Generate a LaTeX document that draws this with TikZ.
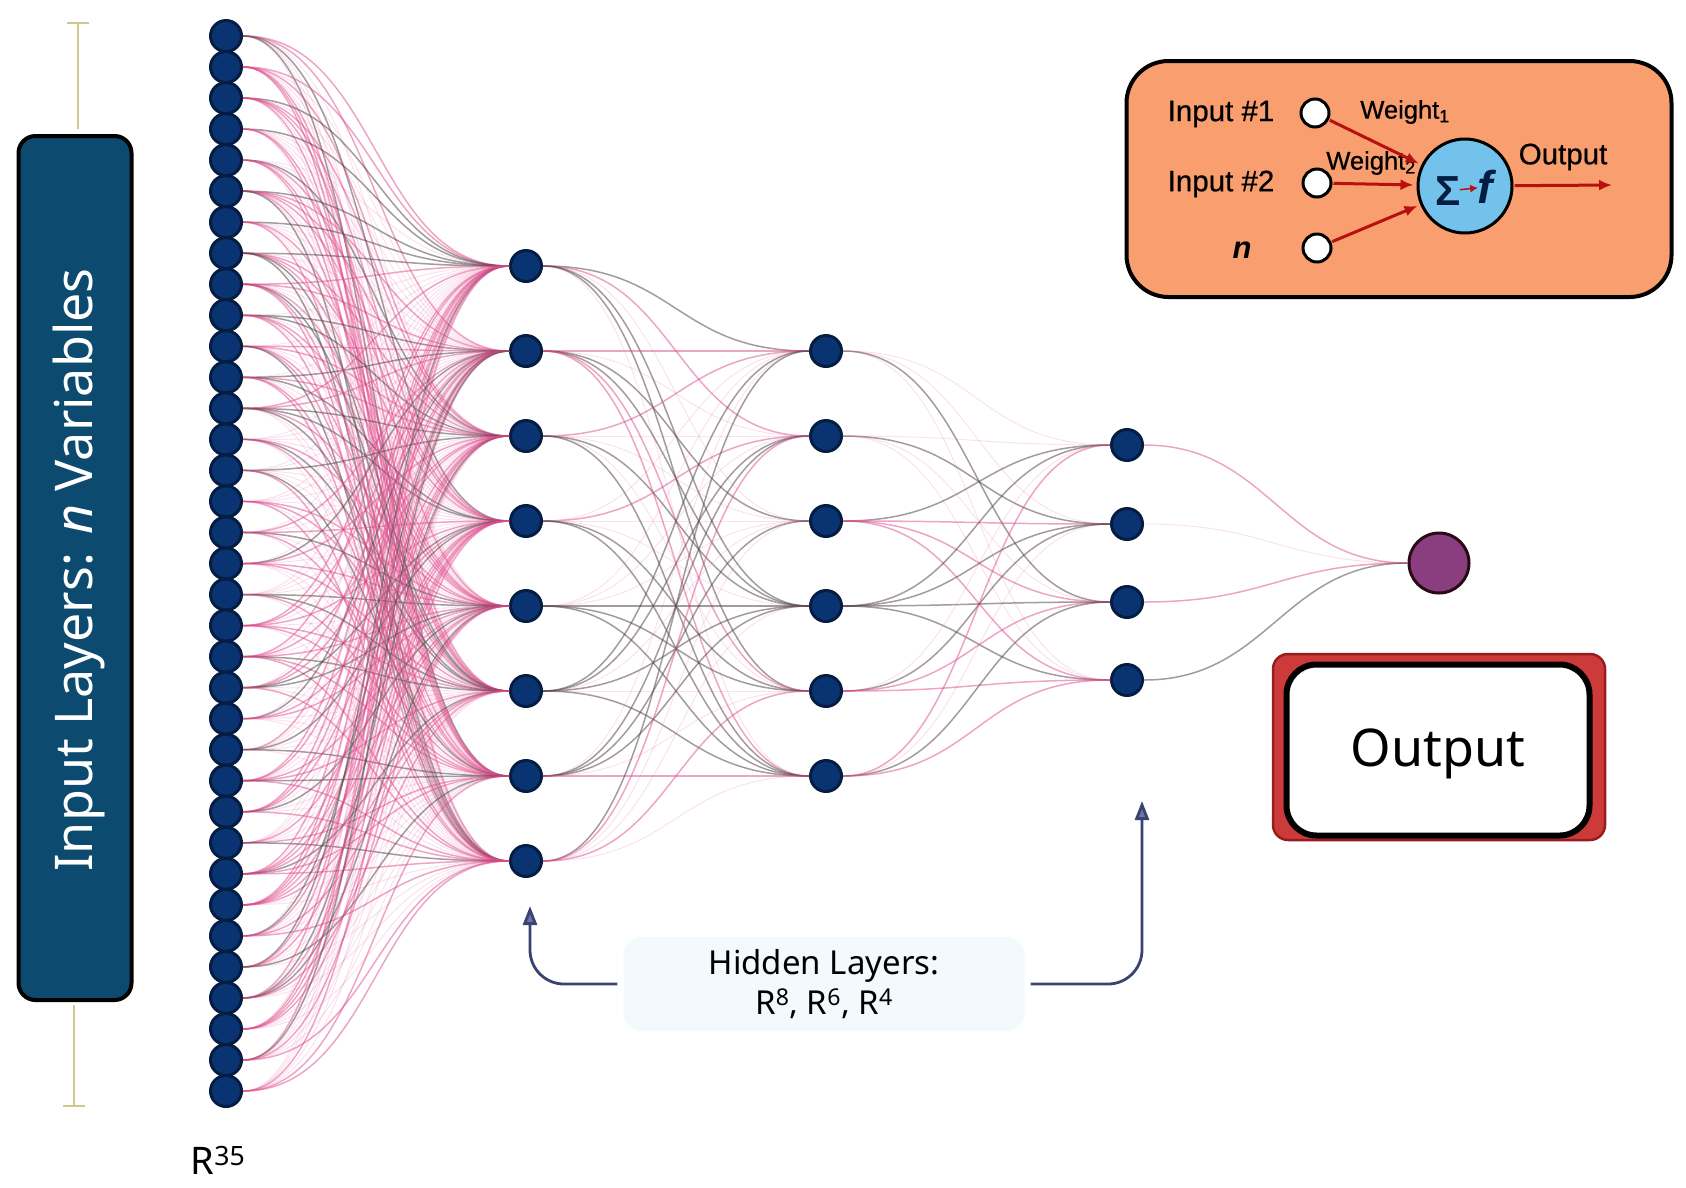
\documentclass[tikz,border=0pt]{standalone}
\usepackage{fontspec}
\setmainfont{Noto Sans}
\newfontfamily\insetfont[FakeBold=0.7]{Liberation Sans}
\newfontfamily\sumfont{Liberation Sans}
\usetikzlibrary{arrows.meta}
\definecolor{netblue}{HTML}{0A3471}
\definecolor{netrim}{HTML}{051D42}
\definecolor{linkpink}{HTML}{DE4A8C}
\definecolor{linkgray}{HTML}{574A4A}
\definecolor{barblue}{HTML}{0D4A70}
\definecolor{armgold}{HTML}{CFC88C}
\definecolor{slate}{HTML}{3A4272}
\definecolor{slatetip}{HTML}{6C74A8}
\definecolor{peach}{HTML}{F89E6F}
\definecolor{sumblue}{HTML}{72C2EC}
\definecolor{wirered}{HTML}{B80F0F}
\definecolor{outplum}{HTML}{8A3E80}
\definecolor{outrim}{HTML}{2A0A14}
\definecolor{boxred}{HTML}{CD3A3A}
\definecolor{boxrim}{HTML}{961E1E}
\definecolor{hidtint}{HTML}{F2FAFE}
\tikzset{
	neuron/.style={circle, draw=netrim, line width=3pt, fill=netblue, minimum size=31pt, inner sep=0pt},
	edgeg/.style={draw=linkgray, opacity=0.55, line width=1.5pt},
	edgep/.style={draw=linkpink, opacity=0.5, line width=1.5pt},
	edgef/.style={draw=linkpink, opacity=0.16, line width=1pt},
	wire/.style={draw=wirered, line width=3pt, -{Latex[length=13pt,width=11pt]}, shorten >=3pt, shorten <=1pt},
	pin/.style={circle, draw=black, line width=3pt, fill=white, minimum size=28pt, inner sep=0pt},
	insetlabel/.style={font=\insetfont\fontsize{29.5}{32}\selectfont, text=black, inner sep=0pt},
	weightlabel/.style={font=\insetfont\fontsize{25.5}{28}\selectfont, text=black, inner sep=0pt},
	hidarrow/.style={draw=slate, line width=2.8pt, rounded corners=34pt, shorten <=6pt, -{Triangle[length=19pt,width=14pt,fill=slatetip]}},
	armline/.style={draw=armgold, line width=1.8pt},
}
\newcommand{\linkup}[3]{\draw[edge#1] (#2.east) .. controls +(0.5*\gap,0) and +(-0.5*\gap,0) .. (#3.west);}
\begin{document}
\begin{tikzpicture}[x=1pt, y=-1pt]
	%%%%% START %%%%%
	\useasboundingbox (0, 0) rectangle (1686, 1187);
	
	% input bar and its two arms
	\node[draw=black, line width=4pt, fill=barblue, rounded corners=17pt, minimum width=113pt, minimum height=864pt, inner sep=0pt] (bar) at (75, 568) {};
	\node[rotate=90, text=white, font=\fontsize{52}{60}\selectfont, inner sep=0pt] (barlabel) at (79, 570) {Input Layers: \textit{n} Variables};
	\coordinate (armtop) at (78, 23);
	\coordinate (armbot) at (74, 1106);
	\draw[armline] (armtop) -- (78, 129);
	\draw[armline] (67, 23) -- (89, 23);
	\draw[armline] (armbot) -- (74, 1005);
	\draw[armline] (63, 1106) -- (85, 1106);
	
	% the layers
	\foreach \i in {1,...,35}
		\node[neuron] (in-\i) at (226, {36+(\i-1)*31.03}) {};
	\foreach \i [evaluate=\i as \ypos using {266+(\i-1)*85}] in {1,...,8}
		\node[neuron] (a-\i) at (526, \ypos) {};
	\foreach \i [evaluate=\i as \ypos using {351+(\i-1)*85}] in {1,...,6}
		\node[neuron] (b-\i) at (826, \ypos) {};
	\foreach \i/\ypos in {1/445, 2/524, 3/602, 4/680}
		\node[neuron] (c-\i) at (1127, \ypos) {};
	\node[circle, draw=outrim, line width=3pt, minimum size=60pt, inner sep=0pt, fill=outplum] (out) at (1439, 563) {};
	
	% input layer to first hidden layer
	\def\gap{270}
	\pgfmathsetseed{4117}
	\foreach \i in {1,...,35}
		\foreach \j in {1,...,8} {
			\pgfmathparse{{"g","p","g","p","f","p","f","f","p","f","p","f","p","f"}[int(14*rnd)]}
			\edef\kind{\pgfmathresult}
			\linkup{\kind}{in-\i}{a-\j}
		}
	
	% first to second hidden layer
	\def\gap{268}
	\foreach \row [count=\i] in {{g,p,f,g,g,f},{p,f,g,g,p,p},{p,f,f,g,f,g},{f,p,f,f,g,g},{f,f,f,g,g,g},{g,g,f,g,f,g},{f,g,g,g,f,p},{g,p,f,f,p,f}}
		\foreach \kind [count=\j] in \row {
			\linkup{\kind}{a-\i}{b-\j}
		}
	
	% second to third hidden layer
	\def\gap{270}
	\foreach \row [count=\i] in {{f,f,g,f},{f,g,f,f},{g,p,p,p},{g,g,g,g},{f,g,p,p},{p,f,g,p}}
		\foreach \kind [count=\j] in \row {
			\linkup{\kind}{b-\i}{c-\j}
		}
	
	% third hidden layer to output
	\def\gap{250}
	\foreach \kind [count=\j] in {p,f,p,g} {
		\linkup{\kind}{c-\j}{out}
	}
	
	\node[font=\fontsize{38}{44}\selectfont, inner sep=0pt] (rlabel) at (218, 1160) {R\textsuperscript{35}};
	
	% hidden layers label
	\node[fill=hidtint, rounded corners=17pt, minimum width=401pt, minimum height=94pt, inner sep=0pt, align=center, font=\fontsize{33}{40}\selectfont] (hidlabel) at (824, 984) {Hidden Layers:\\R\textsuperscript{8}, R\textsuperscript{6}, R\textsuperscript{4}};
	\coordinate (tipleft) at (530, 906);
	\coordinate (tipright) at (1142, 801);
	\draw[hidarrow] (hidlabel.west) -| (tipleft);
	\draw[hidarrow] (hidlabel.east) -| (tipright);
	
	% output box
	\node[draw=boxrim, line width=2.5pt, fill=boxred, rounded corners=15pt, minimum width=332pt, minimum height=186pt, inner sep=0pt] (outbox) at (1439, 747) {};
	\node[draw=black, line width=6pt, fill=white, rounded corners=30pt, minimum width=303pt, minimum height=171pt, inner sep=0pt, font=\fontsize{52}{60}\selectfont] (outlabel) at (1438, 750) {\raisebox{-16pt}[0pt][0pt]{Output}};
	
	% neuron inset
	\node[draw=black, line width=4pt, fill=peach, rounded corners=42pt, minimum width=545pt, minimum height=236pt, inner sep=0pt] (inset) at (1399, 179) {};
	\node[pin] (pin-1) at (1315, 113) {};
	\node[pin] (pin-2) at (1317, 183) {};
	\node[pin] (pin-3) at (1317, 248) {};
	\node[circle, draw=black, line width=3pt, fill=sumblue, minimum size=94pt, inner sep=0pt] (sum) at (1465, 186) {};
	\node[insetlabel] (inlab-1) at (1221, 114) {Input \#1};
	\node[insetlabel] (inlab-2) at (1221, 184) {Input \#2};
	\node[insetlabel, font=\sumfont\bfseries\itshape\fontsize{31}{32}\selectfont] (inlab-3) at (1242, 250) {n};
	\node[weightlabel] (weight-1) at (1405, 112) {Weight\textsubscript{1}};
	\node[weightlabel] (weight-2) at (1371, 163) {Weight\textsubscript{2}};
	\node[insetlabel] (outword) at (1563, 157) {Output};
	\node[insetlabel, font=\sumfont\bfseries\fontsize{42}{44}\selectfont, text=netrim] (sigma) at (1448, 191) {Σ};
	\node[insetlabel, font=\sumfont\itshape\bfseries\fontsize{46}{48}\selectfont, text=netrim] (effe) at (1485, 187) {f};
	\coordinate (outtip) at (1615, 185);
	\draw[wire] (pin-1) -- (sum);
	\draw[wire] (pin-2) -- (sum);
	\draw[wire] (pin-3) -- (sum);
	\draw[wire] (sum) -- (outtip);
	\draw[wire, line width=1.5pt, -{Latex[length=8pt,width=8pt]}, shorten >=-1pt, shorten <=-1pt] (sigma) -- (effe);
	
	%%%%% END %%%%%
\end{tikzpicture}
\end{document}
